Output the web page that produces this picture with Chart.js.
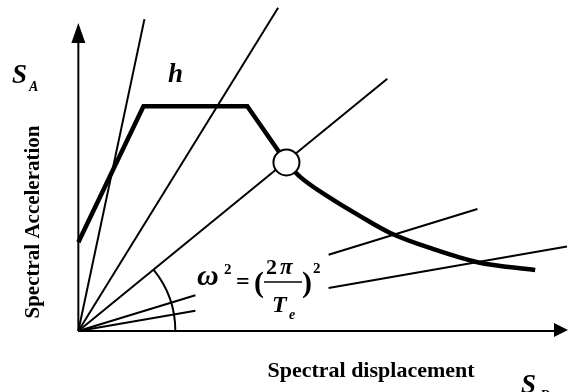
<!DOCTYPE html>
<html>
<head>
<meta charset="utf-8">
<script src="https://cdn.jsdelivr.net/npm/chart.js@4/dist/chart.umd.min.js"></script>
<style>
  html, body { margin: 0; padding: 0; background: #fff; }
  #wrap { width: 568px; height: 392px; }
</style>
</head>
<body>
<div id="wrap"><canvas id="adrs" width="568" height="392"></canvas></div>
<script>
// capacity curve: rising branch + plateau (straight segments)
const capX = [0, 1.33, 3.45, 4.25];
const capY = [2.04, 5.16, 5.16, 3.87];

// descending branch after the performance point
const tailX = [4.25, 4.53, 5.15, 5.72, 6.37, 7.25, 8.15, 9.33];
const tailY = [3.87, 3.54, 3.05, 2.66, 2.25, 1.88, 1.58, 1.40];

// period lines from the origin (steep ones)
const rayEndX = [1.35, 4.08, 6.31];
const rayEndY = [7.16, 7.42, 5.79];

// shallow period lines, broken around the formula
const ray4X = [0, 2.39, 5.11, 8.15];
const ray4Y = [0, 0.82, 1.75, 2.80];
const ray5X = [0, 2.39, 5.11, 9.98];
const ray5Y = [0, 0.465, 0.99, 1.94];

// performance point
const perfX = 4.25;
const perfY = 3.87;

function pts(xs, ys) {
  return xs.map((x, i) => ({ x: x, y: ys[i] }));
}

// insert a gap between the 2nd and 3rd point
function broken(xs, ys) {
  const p = pts(xs, ys);
  return [p[0], p[1], { x: (xs[1] + xs[2]) / 2, y: null }, p[2], p[3]];
}

const thin = { borderColor: '#000', borderWidth: 2, pointRadius: 0, showLine: true, tension: 0, fill: false };

const datasets = [
  {
    label: 'point',
    data: [{ x: perfX, y: perfY }],
    pointRadius: 13,
    pointBackgroundColor: '#fff',
    pointBorderColor: '#000',
    pointBorderWidth: 2,
    showLine: false
  },
  {
    label: 'capacity',
    data: pts(capX, capY),
    borderColor: '#000', borderWidth: 4.5, pointRadius: 0, showLine: true, tension: 0,
    borderJoinStyle: 'miter'
  },
  {
    label: 'tail',
    data: pts(tailX, tailY),
    borderColor: '#000', borderWidth: 4.5, pointRadius: 0, showLine: true,
    cubicInterpolationMode: 'monotone'
  }
];

rayEndX.forEach((x, i) => {
  datasets.push(Object.assign({ label: 'ray' + i, data: [{ x: 0, y: 0 }, { x: x, y: rayEndY[i] }] }, thin));
});
datasets.push(Object.assign({ label: 'ray4', data: broken(ray4X, ray4Y), spanGaps: false }, thin));
datasets.push(Object.assign({ label: 'ray5', data: broken(ray5X, ray5Y), spanGaps: false }, thin));

const serif = '"Liberation Serif", "DejaVu Serif", serif';

// axes with arrows, the angle arc and all the annotation text
const decor = {
  id: 'decor',
  afterDatasetsDraw(chart) {
    const ctx = chart.ctx;
    const xs = chart.scales.x, ys = chart.scales.y;
    const ox = xs.getPixelForValue(0), oy = ys.getPixelForValue(0);
    const topY = 23, rightX = 568;

    ctx.save();
    ctx.strokeStyle = '#000';
    ctx.fillStyle = '#000';
    ctx.lineWidth = 2;

    // y axis
    ctx.beginPath();
    ctx.moveTo(ox, oy);
    ctx.lineTo(ox, topY + 18);
    ctx.stroke();
    ctx.beginPath();
    ctx.moveTo(ox, topY);
    ctx.lineTo(ox - 7, topY + 20);
    ctx.lineTo(ox + 7, topY + 20);
    ctx.closePath();
    ctx.fill();

    // x axis
    ctx.beginPath();
    ctx.moveTo(ox, oy);
    ctx.lineTo(rightX - 12, oy);
    ctx.stroke();
    ctx.beginPath();
    ctx.moveTo(rightX, oy - 1);
    ctx.lineTo(rightX - 14, oy - 8);
    ctx.lineTo(rightX - 14, oy + 6);
    ctx.closePath();
    ctx.fill();

    // angle arc between x axis and the line through the performance point
    const ex = xs.getPixelForValue(rayEndX[2]), ey = ys.getPixelForValue(rayEndY[2]);
    const ang = Math.atan2(oy - ey, ex - ox);
    ctx.beginPath();
    ctx.arc(ox, oy, 97, -ang, 0);
    ctx.stroke();

    // labels
    ctx.textBaseline = 'alphabetic';
    ctx.textAlign = 'left';
    ctx.font = 'bold italic 27px ' + serif;
    ctx.fillText('S', 12, 83);
    ctx.fillText('h', 168, 82);
    ctx.fillText('S', 521, 393);
    ctx.font = 'bold italic 14px ' + serif;
    ctx.fillText('A', 29, 91);
    ctx.fillText('D', 540, 400);

    ctx.textAlign = 'center';
    ctx.font = 'bold 22px ' + serif;
    ctx.fillText('Spectral displacement', 371, 377);
    ctx.save();
    ctx.translate(39, 222);
    ctx.rotate(-Math.PI / 2);
    ctx.font = 'bold 21px ' + serif;
    ctx.fillText('Spectral Acceleration', 0, 0);
    ctx.restore();

    // omega^2 = (2pi / Te)^2
    ctx.textAlign = 'left';
    ctx.font = 'bold italic 30px ' + serif;
    ctx.fillText('\u03c9', 197, 285);
    ctx.font = 'bold 15px ' + serif;
    ctx.fillText('2', 224, 274);
    ctx.font = 'bold 24px ' + serif;
    ctx.fillText('=', 236, 289);
    ctx.font = 'bold 30px ' + serif;
    ctx.fillText('(', 254, 292);
    ctx.fillText(')', 302, 292);
    ctx.font = 'bold 15px ' + serif;
    ctx.fillText('2', 313, 273);
    ctx.font = 'bold 22px ' + serif;
    ctx.fillText('2', 266, 274);
    ctx.font = 'bold italic 23px ' + serif;
    ctx.fillText('\u03c0', 280, 274);
    ctx.font = 'bold italic 24px ' + serif;
    ctx.fillText('T', 272, 312);
    ctx.font = 'bold italic 14px ' + serif;
    ctx.fillText('e', 289, 319);
    ctx.lineWidth = 1.5;
    ctx.beginPath();
    ctx.moveTo(264, 282);
    ctx.lineTo(302, 282);
    ctx.stroke();

    ctx.restore();
  }
};

new Chart(document.getElementById('adrs'), {
  type: 'scatter',
  data: { datasets: datasets },
  options: {
    responsive: false,
    animation: false,
    layout: { padding: 0, autoPadding: false },
    plugins: { legend: { display: false }, tooltip: { enabled: false } },
    scales: {
      x: { type: 'linear', min: -1.6, max: 10, display: false },
      y: { type: 'linear', min: -1.4, max: 7.6, display: false }
    }
  },
  plugins: [decor]
});
</script>
</body>
</html>
